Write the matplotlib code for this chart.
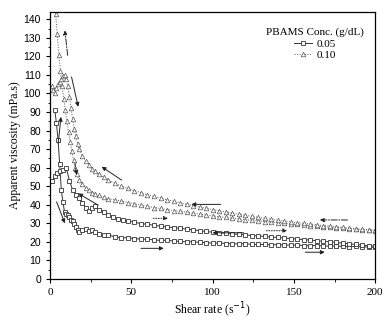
import matplotlib
matplotlib.use('Agg')
import matplotlib.pyplot as plt
from matplotlib.ticker import MultipleLocator

plt.rcParams['font.family'] = ['Liberation Serif', 'DejaVu Serif']

# PBAMS 0.05 g/dL, increasing shear rate (lower curve)
x05_up = [3, 4, 5, 6, 7, 8, 9, 10, 11, 12, 13, 14, 15, 16, 17, 18, 20, 22, 24, 26, 28, 30, 33, 36,
          40, 44, 48, 52, 56, 60, 64, 68, 72, 76, 80, 84, 88, 92, 96, 100, 104, 108, 112, 116, 120,
          124, 128, 132, 136, 140, 144, 148, 152, 156, 160, 164, 168, 172, 176, 180, 184, 188, 192,
          196, 200]
y05_up = [91, 84, 75, 62, 48, 41.5, 36, 35, 34.5, 33.5, 32, 31, 29.5, 28.2, 26.5, 25.5, 26.3, 26.8,
          26, 26.4, 25.2, 24.5, 23.5, 23.8, 22.6, 22.3, 22.1, 21.8, 21.4, 21.5, 21.0, 20.8, 20.9,
          20.4, 20.3, 20.0, 20.1, 19.7, 19.6, 19.3, 19.4, 19.1, 19.0, 18.9, 19.0, 18.7, 18.6, 18.6,
          18.4, 18.5, 18.3, 18.2, 18.3, 18.0, 17.9, 18.0, 17.8, 17.7, 17.8, 17.5, 17.4, 17.5, 17.3,
          17.2, 17.1]

# PBAMS 0.05 g/dL, decreasing shear rate (upper curve)
x05_dn = [1.5, 3, 4.5, 6, 8, 10, 12, 14, 16, 18, 20, 22, 24, 26, 28, 30, 33, 36, 39, 42, 45, 48,
          52, 56, 60, 64, 68, 72, 76, 80, 84, 88, 92, 96, 100, 104, 108, 112, 116, 120, 124, 128,
          132, 136, 140, 144, 148, 152, 156, 160, 164, 168, 172, 176, 180, 184, 188, 192, 196, 200]
y05_dn = [53, 55.5, 57, 58, 59, 60, 53, 48, 45.5, 43.5, 41, 38.5, 36.8, 38.5, 39.5, 37, 36.2, 34.6,
          33.2, 32.2, 31.8, 31.2, 30.6, 29.8, 29.5, 28.9, 28.5, 28.0, 27.6, 27.4, 26.8, 26.5, 26.0,
          25.6, 25.2, 24.9, 24.7, 24.3, 24.0, 23.8, 23.4, 23.2, 22.9, 22.6, 22.4, 22.0, 21.8, 21.5,
          21.2, 21.0, 20.6, 20.3, 20.0, 19.7, 19.3, 19.0, 18.6, 18.3, 17.9, 17.6]

# PBAMS 0.10 g/dL, increasing shear rate
x10_up = [3.5, 4.5, 5.5, 6.5, 7.5, 8.5, 9.5, 10.5, 11.5, 12.5, 13.5, 14.5, 15.5, 16.5, 18, 20, 22,
          24, 26, 28, 30, 33, 36, 40, 44, 48, 52, 56, 60, 64, 68, 72, 76, 80, 84, 88, 92, 96, 100,
          104, 108, 112, 116, 120, 124, 128, 132, 136, 140, 144, 148, 152, 156, 160, 164, 168, 172,
          176, 180, 184, 188, 192, 196, 200]
y10_up = [143, 132, 121, 112, 104, 97, 91, 85, 79, 74, 69, 64, 60, 56.5, 53.5, 51, 49, 48, 46.5,
          46, 45, 44, 43.3, 42.6, 42, 41.2, 40.5, 39.8, 39.2, 38.5, 38.0, 37.4, 36.9, 36.5, 36.0,
          35.4, 35.0, 34.5, 34.0, 33.6, 33.2, 32.8, 32.4, 32.0, 31.6, 31.3, 30.9, 30.6, 30.3, 30.0,
          29.7, 29.4, 29.1, 28.8, 28.5, 28.2, 27.9, 27.7, 27.4, 27.1, 26.9, 26.6, 26.4, 26.1]

# PBAMS 0.10 g/dL, decreasing shear rate
x10_dn = [1, 2, 3, 4, 5, 6, 7, 8, 9, 10, 11, 12, 13, 14, 15, 16, 17, 18, 20, 22, 24, 26, 28, 30,
          33, 36, 40, 44, 48, 52, 56, 60, 64, 68, 72, 76, 80, 84, 88, 92, 96, 100, 104, 108, 112,
          116, 120, 124, 128, 132, 136, 140, 144, 148, 152, 156, 160, 164, 168, 172, 176, 180, 184,
          188, 192, 196, 200]
y10_dn = [104, 102, 100, 103, 105, 106, 108, 109.5, 110, 108, 104, 98, 92, 86, 81, 77, 73, 70,
          66.5, 63.5, 61.5, 59.5, 58, 56.5, 55, 53.5, 51.5, 50, 48.8, 47.6, 46.5, 45.4, 44.5, 43.6,
          42.7, 41.9, 41.1, 40.3, 39.6, 38.8, 38.1, 37.4, 36.8, 36.1, 35.5, 34.9, 34.3, 33.8, 33.2,
          32.7, 32.2, 31.7, 31.3, 30.8, 30.4, 30.0, 29.6, 29.2, 28.8, 28.5, 28.1, 27.8, 27.4, 27.1,
          26.8, 26.5, 26.2]

# direction arrows: (tail, head, linestyle)
arrows = [
    ((5.1, 73), (6.8, 87.4), '-'),
    ((4.1, 41.6), (9.2, 30), '-'),
    ((29.7, 39.8), (17.4, 46.1), '-'),
    ((119, 24.9), (100, 24.9), '-'),
    ((56, 16.5), (70, 16.5), '-'),
    ((157, 14.4), (169, 14.4), '-'),
    ((10.9, 120.6), (9.2, 134), '-.'),
    ((13.3, 108.9), (17.4, 92.8), '-'),
    ((15.4, 62.5), (16.4, 56), '--'),
    ((44.1, 53.3), (31.8, 60.5), '-'),
    ((105, 40.2), (87, 40.2), '-'),
    ((63.5, 32.7), (72.6, 32.7), ':'),
    ((183, 31.8), (166, 31.8), '-.'),
    ((133, 26), (146, 26), ':'),
]

fig = plt.figure(figsize=(3.84, 3.21), dpi=100, facecolor='white')
ax = fig.add_axes([0.130, 0.131, 0.847, 0.832])

c = '#333333'
mk05 = dict(marker='s', markersize=3.3, markerfacecolor='white', markeredgecolor=c,
            markeredgewidth=0.6, color=c, linewidth=0.7)
mk10 = dict(marker='^', markersize=3.3, markerfacecolor='white', markeredgecolor='#555555',
            markeredgewidth=0.5, color='#555555', linewidth=0.7, linestyle=':')

ax.plot(x05_up, y05_up, label='0.05', **mk05)
ax.plot(x05_dn, y05_dn, **mk05)
ax.plot(x10_up, y10_up, label='0.10', **mk10)
ax.plot(x10_dn, y10_dn, **mk10)

for tail, head, ls in arrows:
    ax.annotate('', xy=head, xytext=tail,
                arrowprops=dict(arrowstyle='-|>', color='#222222', lw=0.7,
                                linestyle=ls, mutation_scale=6, shrinkA=0, shrinkB=0))

ax.set_xlim(0, 200)
ax.set_ylim(0, 144)
ax.xaxis.set_major_locator(MultipleLocator(50))
ax.xaxis.set_minor_locator(MultipleLocator(25))
ax.yaxis.set_major_locator(MultipleLocator(10))
ax.yaxis.set_minor_locator(MultipleLocator(5))
ax.tick_params(which='major', length=3, width=0.8, labelsize=8)
ax.tick_params(which='minor', length=1.8, width=0.6)
for lab in ax.get_yticklabels():
    lab.set_family('Liberation Sans')
    lab.set_fontsize(7.5)
for sp in ax.spines.values():
    sp.set_linewidth(0.9)

ax.set_xlabel('Shear rate (s$^{-1}$)', fontsize=8.5, labelpad=3)
ax.set_ylabel('Apparent viscosity (mPa.s)', fontsize=8.5, labelpad=2)

ax.legend(title='PBAMS Conc. (g/dL)', loc='upper right', bbox_to_anchor=(0.99, 0.97),
          frameon=False, fontsize=8, title_fontsize=8, handlelength=1.6, handletextpad=0.4,
          labelspacing=0.15, borderpad=0.2)

plt.savefig('out.png', dpi=100)
plt.close(fig)
